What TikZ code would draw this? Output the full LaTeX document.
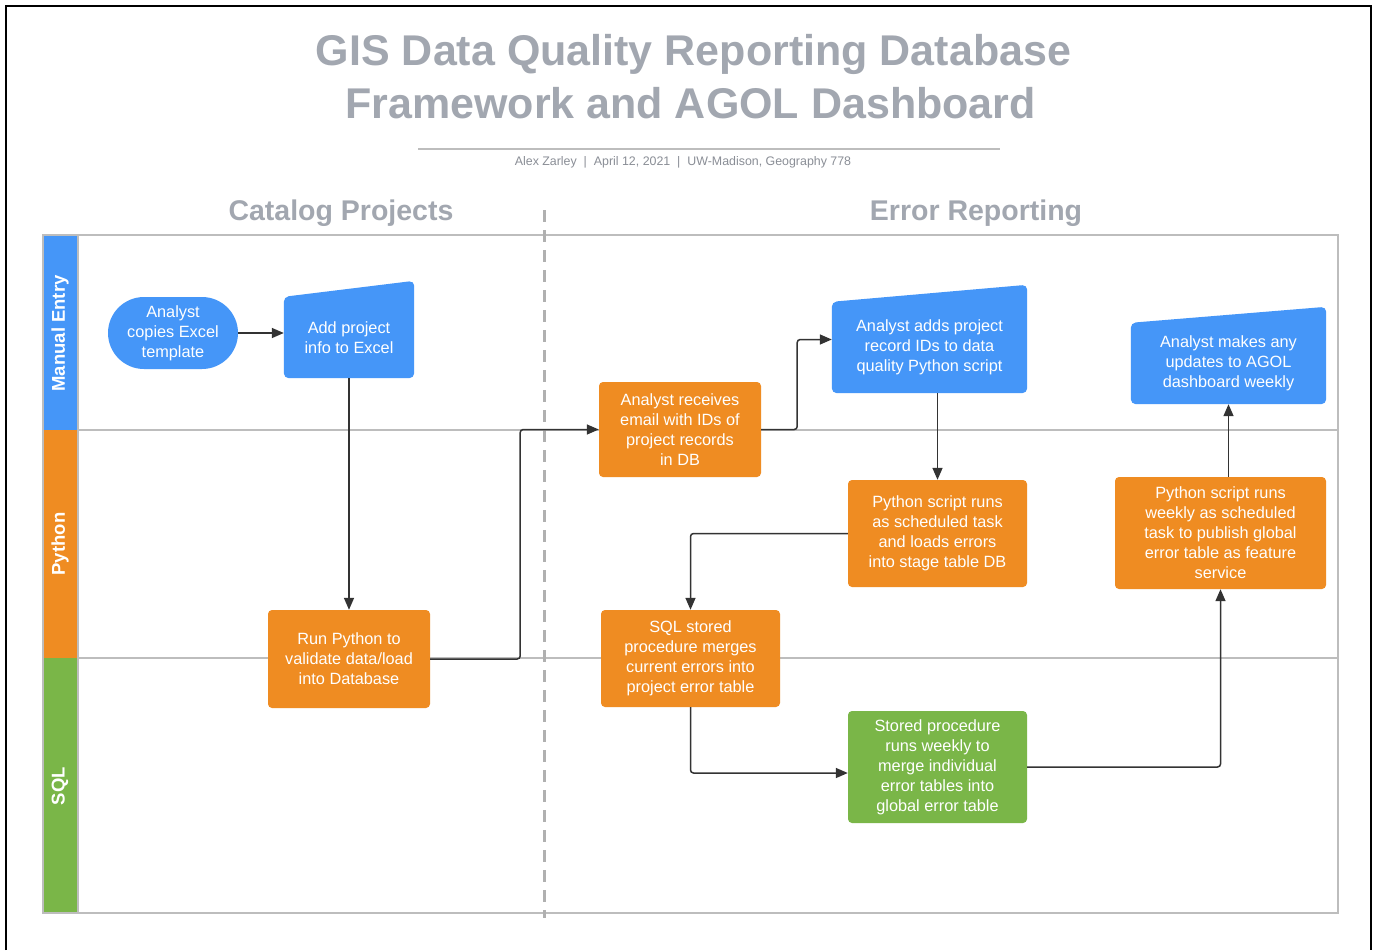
\documentclass[tikz,border=0pt]{standalone}
\usepackage{fontspec}
\setmainfont{Liberation Sans}
\usetikzlibrary{arrows.meta}
\definecolor{lblue}{HTML}{4596F8}
\definecolor{lorange}{HTML}{EF8C22}
\definecolor{lgreen}{HTML}{7AB648}
\definecolor{titlegray}{HTML}{A2A7B0}
\definecolor{poolgray}{HTML}{BDBDBD}
\definecolor{dashgray}{HTML}{B0B0B0}
\definecolor{arrowc}{HTML}{333333}
\pgfdeclarelayer{lanes}
\pgfdeclarelayer{shapes}
\pgfsetlayers{lanes,shapes,main}
\begin{document}
\begin{tikzpicture}[x=1pt,y=-1pt,
  box/.style={rounded corners=4pt, text=white, align=center,
    font=\fontsize{16.3}{20}\selectfont, inner sep=0pt},
  sz/.style 2 args={minimum width=#1pt, minimum height=#2pt},
  bluebox/.style={box, fill=lblue},
  orangebox/.style={box, fill=lorange},
  greenbox/.style={box, fill=lgreen},
  manualbox/.style={box},
  terminal/.style={box, fill=lblue, rounded corners=36pt},
  lanelabel/.style={rotate=90, text=white, font=\fontsize{18.5}{20}\selectfont\bfseries},
  heading/.style={text=titlegray, font=\fontsize{28.5}{34}\selectfont\bfseries, anchor=base, inner sep=0pt},
  conn/.style={draw=arrowc, line width=1.5pt, rounded corners=3pt,
    -{Triangle[length=12pt,width=10pt]}},
  laneline/.style={draw=poolgray, line width=1.1pt}
]
\useasboundingbox (0,0) rectangle (1375,950);
\begin{pgfonlayer}{lanes}
\fill[white] (0,0) rectangle (1375,950);
\end{pgfonlayer}
% outer frame
\draw[black, line width=2pt] (6,950) -- (6,6) -- (1371,6) -- (1371,950);

% title
\node[heading, font=\fontsize{43}{52}\selectfont\bfseries] (t1) at (693.5,66) {GIS Data Quality Reporting Database};
\node[heading, font=\fontsize{43}{52}\selectfont\bfseries] (t2) at (690.5,118) {Framework and AGOL Dashboard};
\draw[draw=poolgray, line width=1.3pt] (418,149) -- (1000,149);
\node[anchor=base, inner sep=0pt, text=titlegray!85!black, font=\fontsize{12.4}{14}\selectfont] (sub) at (683,165)
  {Alex Zarley \ | \ April 12, 2021 \ | \ UW-Madison, Geography 778};

% section headings
\node[heading] (h1) at (341,220) {Catalog Projects};
\node[heading] (h2) at (976,220) {Error Reporting};

% pool and lanes
\begin{pgfonlayer}{lanes}
\fill[lblue] (43,235) rectangle (78,430);
\fill[lorange] (43,430) rectangle (78,658);
\fill[lgreen] (43,658) rectangle (78,913);
\draw[laneline] (78,430) -- (1338,430);
\draw[laneline] (78,658) -- (1338,658);
\draw[laneline] (78,235) -- (78,913);
\draw[draw=poolgray, line width=1.6pt] (43,235) rectangle (1338,913);
\draw[dashgray, line width=3pt, dash pattern=on 12pt off 8pt] (544,210) -- (544,918);
\end{pgfonlayer}
\node[lanelabel] (l1) at (60,333.5) {Manual Entry};
\node[lanelabel] (l2) at (60,544) {Python};
\node[lanelabel] (l3) at (60,786) {SQL};

% nodes
\node[terminal, sz={130}{72}] (n1) at (173,333) {Analyst\\copies Excel\\template};
\node[manualbox, sz={130}{81}] (n2) at (349,337.5) {Add project\\info to Excel};
\node[orangebox, sz={162}{98}] (n3) at (349,659) {Run Python to\\validate data/load\\into Database};
\node[orangebox, sz={162}{95}] (n4) at (680,429.5) {Analyst receives\\email with IDs of\\project records\\in DB};
\node[manualbox, sz={195}{91}] (n5) at (929.5,347.5) {Analyst adds project\\record IDs to data\\quality Python script};
\node[orangebox, sz={179}{107}] (n6) at (937.5,533.5) {Python script runs\\as scheduled task\\and loads errors\\into stage table DB};
\node[orangebox, sz={179}{97}] (n7) at (690.5,658.5) {SQL stored\\procedure merges\\current errors into\\project error table};
\node[greenbox, sz={179}{112}] (n8) at (937.5,767) {Stored procedure\\runs weekly to\\merge individual\\error tables into\\global error table};
\node[orangebox, sz={211}{112}] (n9) at (1220.5,533) {Python script runs\\weekly as scheduled\\task to publish global\\error table as feature\\service};
\node[manualbox, sz={195}{81}] (n10) at (1228.5,363.5) {Analyst makes any\\updates to AGOL\\dashboard weekly};

% manual input shapes (slanted top)
\begin{pgfonlayer}{shapes}
\fill[lblue, rounded corners=5pt] (n2.south west) -- (n2.north west) -- ([yshift=16pt]n2.north east) -- (n2.south east) -- cycle;
\fill[lblue, rounded corners=5pt] (n5.south west) -- (n5.north west) -- ([yshift=17pt]n5.north east) -- (n5.south east) -- cycle;
\fill[lblue, rounded corners=5pt] (n10.south west) -- (n10.north west) -- ([yshift=16pt]n10.north east) -- (n10.south east) -- cycle;
\end{pgfonlayer}

% connectors
\draw[conn] (n1.east) -- (n1.east -| n2.west);
\draw[conn] (n2.south) -- (n3.north);
\draw[conn] (n3.east) -- ++(90,0) |- (n4.west);
\draw[conn] (n4.east) -- ++(36,0) |- ([yshift=8pt]n5.west);
\draw[conn] (n5.south -| n6.north) -- (n6.north);
\draw[conn] (n6.west) -| (n7.north);
\draw[conn] (n7.south) |- ([yshift=-6pt]n8.west);
\draw[conn] (n8.east) -| (n9.south);
\draw[conn] (n9.north -| n10.south) -- (n10.south);
\end{tikzpicture}
\end{document}
